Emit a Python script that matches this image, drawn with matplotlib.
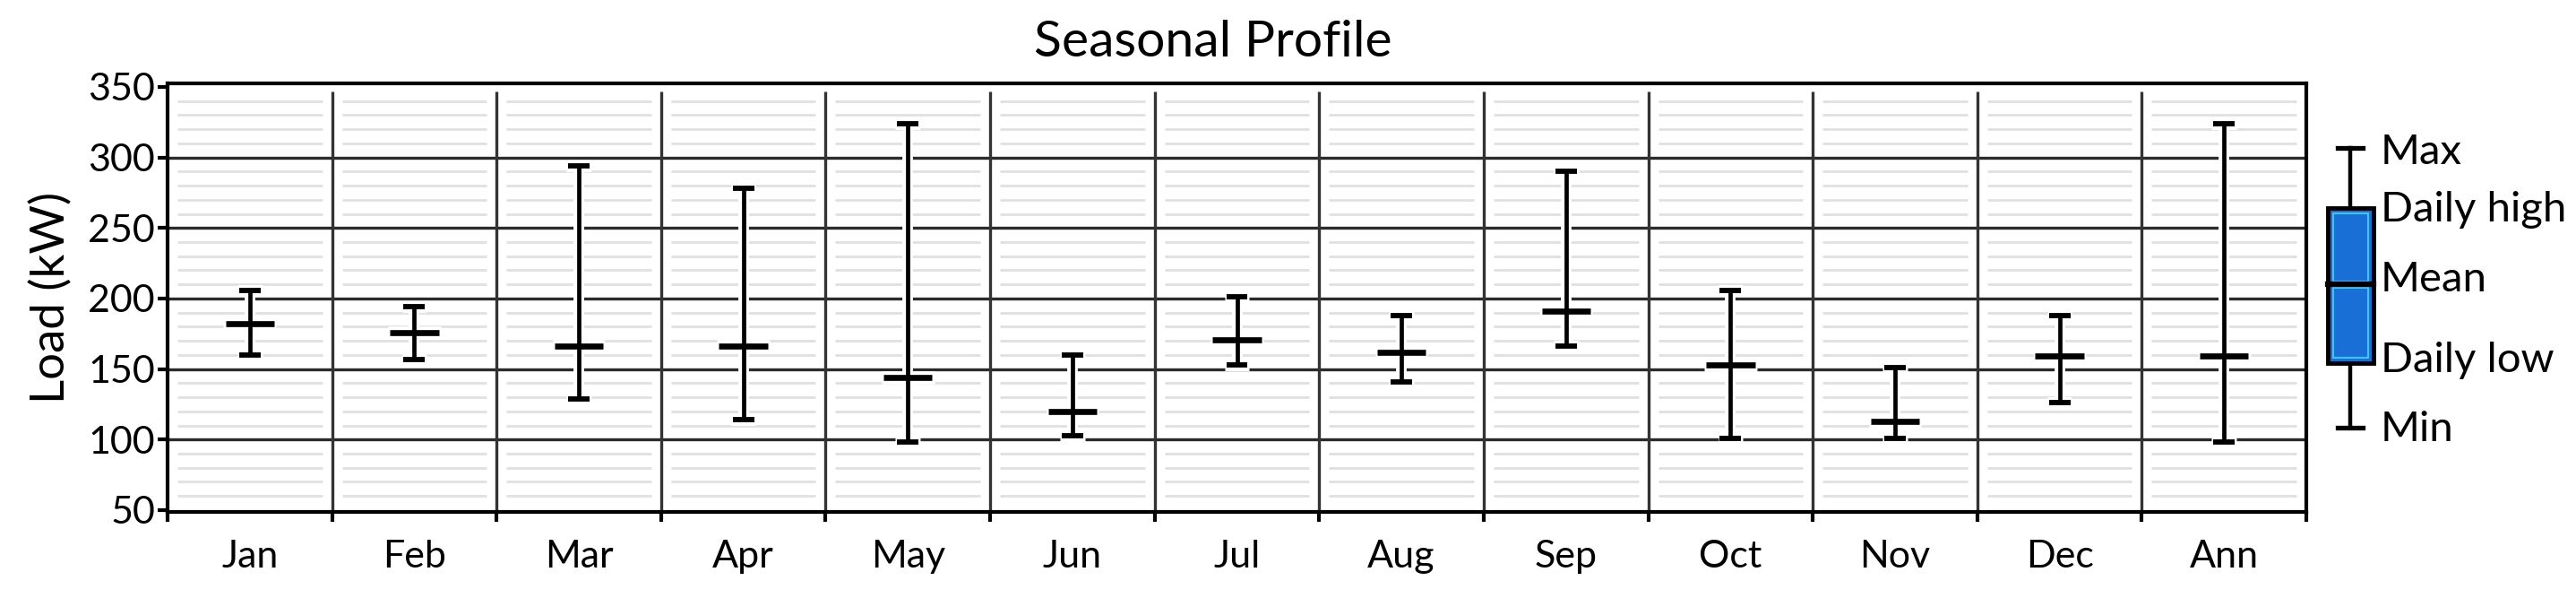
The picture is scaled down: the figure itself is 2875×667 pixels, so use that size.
import matplotlib
matplotlib.use("Agg")
import matplotlib.pyplot as plt
from matplotlib.patches import Rectangle
import numpy as np

plt.rcParams['font.family'] = ['Lato', 'DejaVu Sans']

months = ['Jan', 'Feb', 'Mar', 'Apr', 'May', 'Jun', 'Jul', 'Aug', 'Sep', 'Oct', 'Nov', 'Dec', 'Ann']
load_max = [206, 194, 294, 278, 324, 160, 201, 188, 290, 206, 151, 188, 324]
load_mean = [182, 176, 166, 166, 144, 120, 171, 162, 191, 153, 113, 159, 159]
load_min = [160, 157, 129, 114, 98, 103, 153, 141, 166, 101, 101, 126, 98]
yticks = [50, 100, 150, 200, 250, 300, 350]
legend_labels = ['Max', 'Daily high', 'Mean', 'Daily low', 'Min']

W, H = 2875, 667
fig = plt.figure(figsize=(W / 100, H / 100), dpi=100)
ax = fig.add_axes([187 / W, 1 - 571 / H, (2574 - 187) / W, (571 - 93) / H])

n = len(months)
x = np.arange(n)
ax.set_xlim(-0.5, n - 0.5)
ax.set_ylim(48.7, 352.5)

# minor gridlines (segments per month)
for yv in range(50, 351, 10):
    if yv % 50 == 0:
        continue
    ax.hlines([yv] * n, x - 0.44, x + 0.44, color='#e0e0e0', lw=2.0, zorder=1)
# major gridlines
for yv in yticks[1:-1]:
    ax.axhline(yv, color='#2b2b2b', lw=2.4, zorder=2)
# month separators
ax.vlines(np.arange(n - 1) + 0.5, 48.7, 347, color='#333333', lw=2.4, zorder=2)

# white halos first
ax.vlines(x, load_min, load_max, color='white', lw=8.5, zorder=4)
ax.hlines(load_max, x - 0.075, x + 0.075, color='white', lw=9.5, zorder=4)
ax.hlines(load_min, x - 0.075, x + 0.075, color='white', lw=9.5, zorder=4)
ax.hlines(load_mean, x - 0.16, x + 0.16, color='white', lw=10.5, zorder=4)
# black marks
ax.vlines(x, load_min, load_max, color='black', lw=3.4, zorder=5)
ax.hlines(load_max, x - 0.065, x + 0.065, color='black', lw=4.2, zorder=5)
ax.hlines(load_min, x - 0.065, x + 0.065, color='black', lw=4.2, zorder=5)
ax.hlines(load_mean, x - 0.148, x + 0.148, color='black', lw=4.8, zorder=5)

for s in ax.spines.values():
    s.set_linewidth(3.0)
    s.set_color('black')
    s.set_zorder(6)

ax.set_yticks(yticks)
ax.set_yticklabels([str(v) for v in yticks], fontsize=31)
ax.tick_params(axis='y', length=8, width=3, pad=2)
ax.set_xticks(x)
ax.set_xticklabels(months, fontsize=31)
ax.set_xticks(np.arange(n + 1) - 0.5, minor=True)
ax.tick_params(axis='x', which='major', length=0, pad=22)
ax.tick_params(axis='x', which='minor', length=8, width=3)
ax.set_ylabel('Load (kW)', fontsize=38, labelpad=12)

fig.text(1354 / W, 1 - 63 / H, 'Seasonal Profile', fontsize=41, ha='center', va='baseline')

# legend
lax = fig.add_axes([0, 0, 1, 1])
lax.set_xlim(0, W)
lax.set_ylim(H, 0)
lax.axis('off')
cx = 2623
lax.plot([cx, cx], [165, 477], color='black', lw=3.2, zorder=1)
lax.plot([cx - 14, cx + 14], [165, 165], color='black', lw=3.8)
lax.plot([cx - 14, cx + 14], [477, 477], color='black', lw=3.8)
lax.add_patch(Rectangle((2598, 232), 51, 173, facecolor='#1a6fd6', edgecolor='black', lw=3.5, zorder=2))
lax.add_patch(Rectangle((2604, 238), 39, 76, facecolor='none', edgecolor='#3fc4ff', lw=1.5, zorder=3))
lax.add_patch(Rectangle((2604, 321), 39, 78, facecolor='none', edgecolor='#3fc4ff', lw=1.5, zorder=3))
lax.plot([2598, 2649], [317, 317], color='black', lw=4.5, zorder=4)
for lbl, yy in zip(legend_labels, [183, 247, 325, 415, 492]):
    lax.text(2657, yy, lbl, fontsize=34, ha='left', va='baseline')

fig.savefig('out.png', dpi=100)
